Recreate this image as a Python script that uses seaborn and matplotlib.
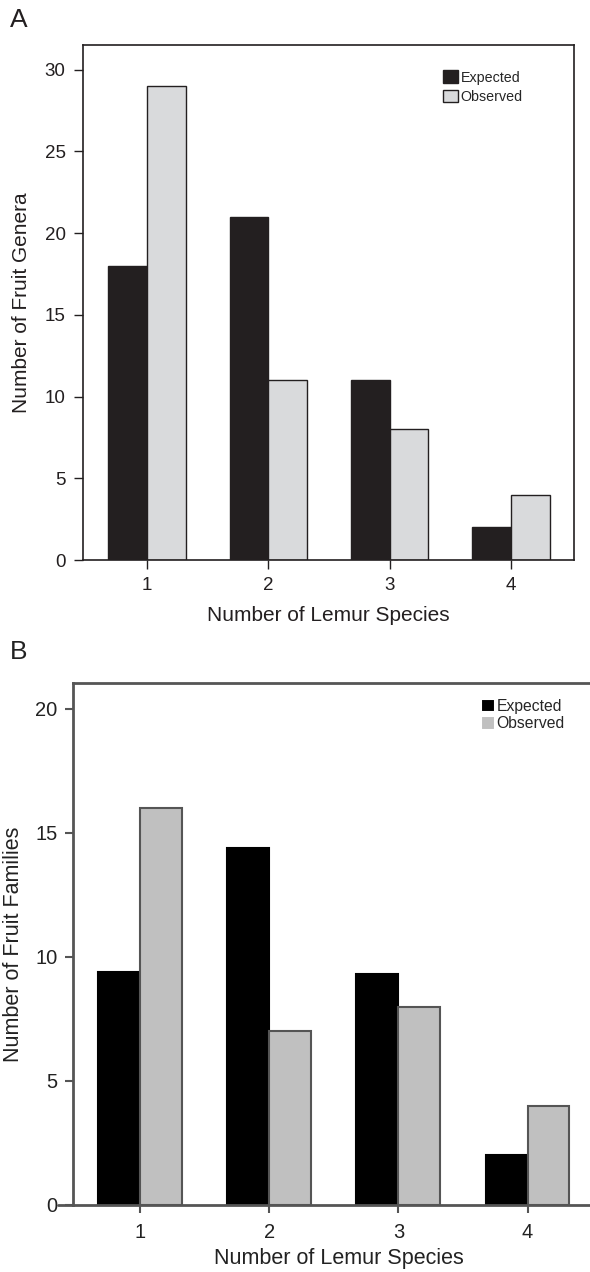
import pandas as pd
import matplotlib
matplotlib.use("Agg")
import matplotlib.pyplot as plt
import seaborn as sns

# -------------------------------
# Data
# -------------------------------
species = ["1", "2", "3", "4"]
series = ["Expected", "Observed"]

genera_expected = [18, 21, 11, 2]
genera_observed = [29, 11, 8, 4]

families_expected = [9.4, 14.4, 9.3, 2]
families_observed = [16, 7, 8, 4]

genera_ticks = [0, 5, 10, 15, 20, 25, 30]
families_ticks = [0, 5, 10, 15, 20]


def long_table(expected, observed):
    return pd.DataFrame({
        "species": species * 2,
        "count": expected + observed,
        "type": [series[0]] * len(species) + [series[1]] * len(species),
    })


sns.set_style("ticks")
plt.rcParams["font.family"] = ["Liberation Sans", "DejaVu Sans"]

fig = plt.figure(figsize=(5.9, 12.72), dpi=100)

# -------------------------------
# Panel A: fruit genera
# -------------------------------
axA = fig.add_axes([0.1407, 0.5597, 0.832, 0.4049])
dark_a = "#231f20"
sns.barplot(data=long_table(genera_expected, genera_observed), x="species", y="count",
            hue="type", palette=[dark_a, "#d9dadc"], width=0.64, gap=0,
            edgecolor=dark_a, linewidth=1.0, saturation=1, ax=axA)
axA.set_xlim(-0.53, 3.52)
axA.set_ylim(0, 31.5)
axA.set_yticks(genera_ticks)
axA.set_xlabel("Number of Lemur Species", fontsize=15, labelpad=8, color=dark_a)
axA.set_ylabel("Number of Fruit Genera", fontsize=15, labelpad=10, color=dark_a)
axA.tick_params(labelsize=13.5, length=6.5, width=1.0, pad=6, color=dark_a, labelcolor=dark_a)
for s in axA.spines.values():
    s.set_visible(True)
    s.set_color(dark_a)
    s.set_linewidth(1.2)
h, l = axA.get_legend_handles_labels()
axA.legend(h, l, loc="upper left", bbox_to_anchor=(0.733, 0.951), frameon=False,
           fontsize=10.3, handlelength=1.05, handleheight=1.0, handletextpad=0.2,
           labelspacing=0.35, borderpad=0, borderaxespad=0)
fig.text(10 / 590, 1 - 8 / 1272, "A", fontsize=19, va="top", ha="left", color=dark_a)

# -------------------------------
# Panel B: fruit families
# -------------------------------
axB = fig.add_axes([0.1237, 0.0527, 0.9017, 0.4104])
gray_b = "#555555"
sns.barplot(data=long_table(families_expected, families_observed), x="species", y="count",
            hue="type", palette=["#000000", "#c0c0c0"], width=0.65, gap=0,
            linewidth=1.5, saturation=1, ax=axB)
for bar in axB.containers[0]:
    bar.set_edgecolor("#000000")
for bar in axB.containers[1]:
    bar.set_edgecolor(gray_b)
axB.set_xlim(-0.52, 3.6)
axB.set_ylim(0, 21.05)
axB.set_yticks(families_ticks)
axB.set_xlabel("Number of Lemur Species", fontsize=15.5, labelpad=4, color="#222222")
axB.set_ylabel("Number of Fruit Families", fontsize=15.5, labelpad=8, color="#222222")
axB.tick_params(labelsize=14.5, length=6, width=1.5, pad=5, color=gray_b, labelcolor="#222222")
axB.tick_params(axis="x", pad=7)
for name in ["left", "top", "bottom"]:
    axB.spines[name].set_visible(True)
    axB.spines[name].set_color(gray_b)
    axB.spines[name].set_linewidth(2)
axB.spines["right"].set_visible(False)
# bottom line runs a little past the y axis
axB.plot([-0.028, 0], [0, 0], transform=axB.transAxes, color=gray_b, lw=2, clip_on=False)
h, l = axB.get_legend_handles_labels()
axB.legend(h, l, loc="upper left", bbox_to_anchor=(0.767, 0.97), frameon=False,
           fontsize=11.3, handlelength=0.9, handleheight=0.95, handletextpad=0.1,
           labelspacing=0.15, borderpad=0, borderaxespad=0)
fig.text(10 / 590, 1 - 640 / 1272, "B", fontsize=19, va="top", ha="left", color="#222222")

fig.savefig("out.png", dpi=100)
